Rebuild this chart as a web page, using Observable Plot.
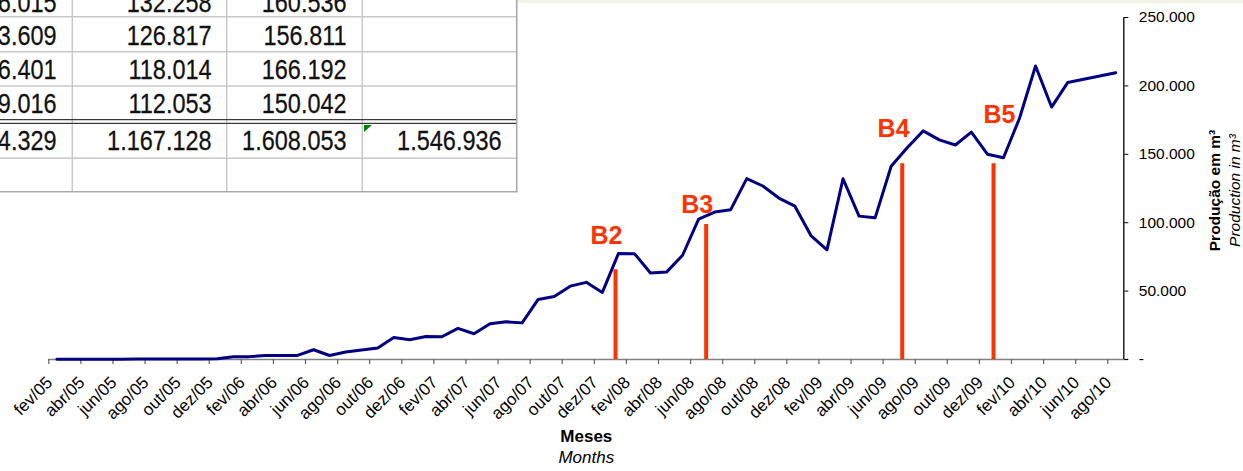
<!DOCTYPE html>
<html>
<head>
<meta charset="utf-8">
<script src="https://cdn.jsdelivr.net/npm/d3@7"></script>
<script src="https://cdn.jsdelivr.net/npm/@observablehq/plot@0.6"></script>
<style>
  html, body { margin: 0; padding: 0; background: #fff; }
  svg { display: block; }
</style>
</head>
<body>
<div id="chart"></div>
<script>
// ---- categories (months) ----
const categories = [
  "fev/05","mar/05","abr/05","mai/05","jun/05","jul/05","ago/05","set/05","out/05","nov/05","dez/05",
  "jan/06","fev/06","mar/06","abr/06","mai/06","jun/06","jul/06","ago/06","set/06","out/06","nov/06","dez/06",
  "jan/07","fev/07","mar/07","abr/07","mai/07","jun/07","jul/07","ago/07","set/07","out/07","nov/07","dez/07",
  "jan/08","fev/08","mar/08","abr/08","mai/08","jun/08","jul/08","ago/08","set/08","out/08","nov/08","dez/08",
  "jan/09","fev/09","mar/09","abr/09","mai/09","jun/09","jul/09","ago/09","set/09","out/09","nov/09","dez/09",
  "jan/10","fev/10","mar/10","abr/10","mai/10","jun/10","jul/10","ago/10"
];

// ---- monthly production (m³) ----
const values2005 = [150, 180, 220, 250, 260, 280, 300, 320, 350, 400, 600];
const values2006 = [2000, 2100, 2900, 2900, 3000, 7100, 2900, 5500, 7000, 8400, 16100, 14400];
const values2007 = [16812, 16630, 22705, 18790, 26104, 27596, 26771, 43880, 46015, 53609, 56401, 49016];
const values2008 = [77412, 77385, 63190, 63875, 76201, 102597, 107812, 109514, 132258, 126817, 118014, 112053];
const values2009 = [90612, 80194, 132140, 104805, 103566, 141287, 154731, 167137, 160536, 156811, 166192, 150042];
const values2010 = [147512, 176310, 214521, 184533, 202418, 204807, 207185, 209650];

// ---- axis ticks ----
const xTickIndex = [0,2,4,6,8,10,12,14,16,18,20,22,24,26,28,30,32,34,36,38,40,42,44,46,48,50,52,54,56,58,60,62,64,66];
const yTicks = [0, 50000, 100000, 150000, 200000, 250000];

// ---- annotations (phases B2..B5), in month-index / m³ units ----
const markerLabels = ["B2", "B3", "B4", "B5"];
const markerMonth = [35.32, 40.97, 53.19, 58.88];
const markerTop = [65600, 98700, 143100, 143100];
const markerLabelMonth = [34.76, 40.41, 52.65, 59.25];
const markerLabelValue = [90600, 112900, 168200, 179000];

// ---- spreadsheet excerpt (rows: set, out, nov, dez, total) ----
const sheetYears = [values2007, values2008, values2009, values2010];
const sheetShowMonths = [true, true, true, false];

// ---- build tables ----
const allValues = [].concat(values2005, values2006, values2007, values2008, values2009, values2010);
const series = allValues.map((v, i) => ({pos: i + 0.5, month: categories[i], value: v}));
const annotations = markerLabels.map((label, k) => ({
  label, x: markerMonth[k], top: markerTop[k], lx: markerLabelMonth[k], ly: markerLabelValue[k]
}));

const fmtPt = d => d3.format(",.0f")(d).replace(/,/g, ".");
const yFmt = d => d === 0 ? "-" : fmtPt(d);
const FONT = "'Liberation Sans', Arial, Helvetica, sans-serif";
const RED = "#ff3300";

const chart = Plot.plot({
  width: 1243,
  height: 471,
  marginLeft: 48.3,
  marginRight: 119.7,
  marginTop: 17,
  marginBottom: 112,
  style: {fontFamily: FONT, background: "#fff", color: "#000", overflow: "visible"},
  x: {domain: [0, 67], axis: null},
  y: {domain: [0, 250000], axis: null},
  marks: [
    Plot.ruleY([0], {x1: 0, x2: 67.3, stroke: "#808080", strokeWidth: 1.5}),
    Plot.axisX({ticks: xTickIndex, tickSize: 5, tickFormat: () => "", stroke: "#606060", strokeWidth: 1.2, label: null}),
    Plot.text(xTickIndex, {
      x: d => d, frameAnchor: "bottom", text: d => categories[d],
      rotate: -45, textAnchor: "end", dx: 4.7, dy: 24, fontSize: 17, fill: "#000"
    }),
    Plot.ruleX([67], {y1: 0, y2: 250000, stroke: "#000", strokeWidth: 1.3}),
    Plot.axisY({
      anchor: "right", ticks: yTicks, tickSize: 4, tickPadding: 11, tickFormat: yFmt,
      fontSize: 15.5, label: null, stroke: "#000", fill: "#000"
    }),
    Plot.line(series, {x: "pos", y: "value", stroke: "#000080", strokeWidth: 3, strokeLinejoin: "round"}),
    Plot.ruleX(annotations, {x: "x", y1: 0, y2: "top", stroke: RED, strokeWidth: 4}),
    Plot.text(annotations, {
      x: "lx", y: "ly", text: "label", fill: RED, fontWeight: "bold", fontSize: 25
    }),
    Plot.text(["Meses"], {frameAnchor: "bottom", textAnchor: "middle", dy: 82.3, fontWeight: "bold", fontSize: 17, fill: "#000"}),
    Plot.text(["Months"], {frameAnchor: "bottom", textAnchor: "middle", dy: 103.8, fontStyle: "italic", fontSize: 17, fill: "#000"}),
    Plot.text(["Produção em m³"], {frameAnchor: "right", textAnchor: "middle", rotate: -90, dx: 91, dy: 2, fontWeight: "bold", fontSize: 15.5, fill: "#000"}),
    Plot.text(["Production in m³"], {frameAnchor: "right", textAnchor: "middle", rotate: -90, dx: 111, dy: 2, fontStyle: "italic", fontSize: 15.5, fill: "#000"})
  ]
});

document.getElementById("chart").appendChild(chart);

// ---- spreadsheet overlay (top-left) ----
const svg = d3.select(chart);
svg.append("rect").attr("x", 517).attr("y", 0).attr("width", 726).attr("height", 3).attr("fill", "#eef3e3");
const g = svg.append("g");
const W = 516.7, H = 191.7;
g.append("rect").attr("x", 0).attr("y", 0).attr("width", W).attr("height", H).attr("fill", "#fff");
[16.7, 51.7, 86, 158.3].forEach(y =>
  g.append("line").attr("x1", 0).attr("x2", W).attr("y1", y).attr("y2", y).attr("stroke", "#c8c8c8").attr("stroke-width", 1.5));
[72.3, 226.7, 362.3].forEach(x =>
  g.append("line").attr("x1", x).attr("x2", x).attr("y1", 0).attr("y2", H).attr("stroke", "#c8c8c8").attr("stroke-width", 1.5));
[119.6, 123.3].forEach(y =>
  g.append("line").attr("x1", 0).attr("x2", W).attr("y1", y).attr("y2", y).attr("stroke", "#3a3a3a").attr("stroke-width", 1.3));
g.append("line").attr("x1", 0).attr("x2", W + 1).attr("y1", H).attr("y2", H).attr("stroke", "#a8a8a8").attr("stroke-width", 1.6);
g.append("line").attr("x1", W).attr("x2", W).attr("y1", 0).attr("y2", H).attr("stroke", "#a8a8a8").attr("stroke-width", 1.6);
g.append("path").attr("d", "M364,125 L372,125 L364,132 Z").attr("fill", "#008000");

const colEnds = [56.7, 211.7, 346.7, 501.7];
const rowBase = [11.7, 45, 79.3, 113.3, 150];
sheetYears.forEach((vals, c) => {
  const cells = sheetShowMonths[c] ? vals.slice(8, 12).map(fmtPt) : ["", "", "", ""];
  cells.push(fmtPt(d3.sum(vals)));
  cells.forEach((t, r) => {
    if (!t) return;
    g.append("text")
      .attr("transform", `translate(${colEnds[c]},${rowBase[r]}) scale(0.84,1)`)
      .attr("text-anchor", "end")
      .attr("font-family", FONT)
      .attr("font-size", 28)
      .attr("fill", "#111")
      .attr("stroke", "#111")
      .attr("stroke-width", 0.25)
      .text(t);
  });
});
</script>
</body>
</html>
